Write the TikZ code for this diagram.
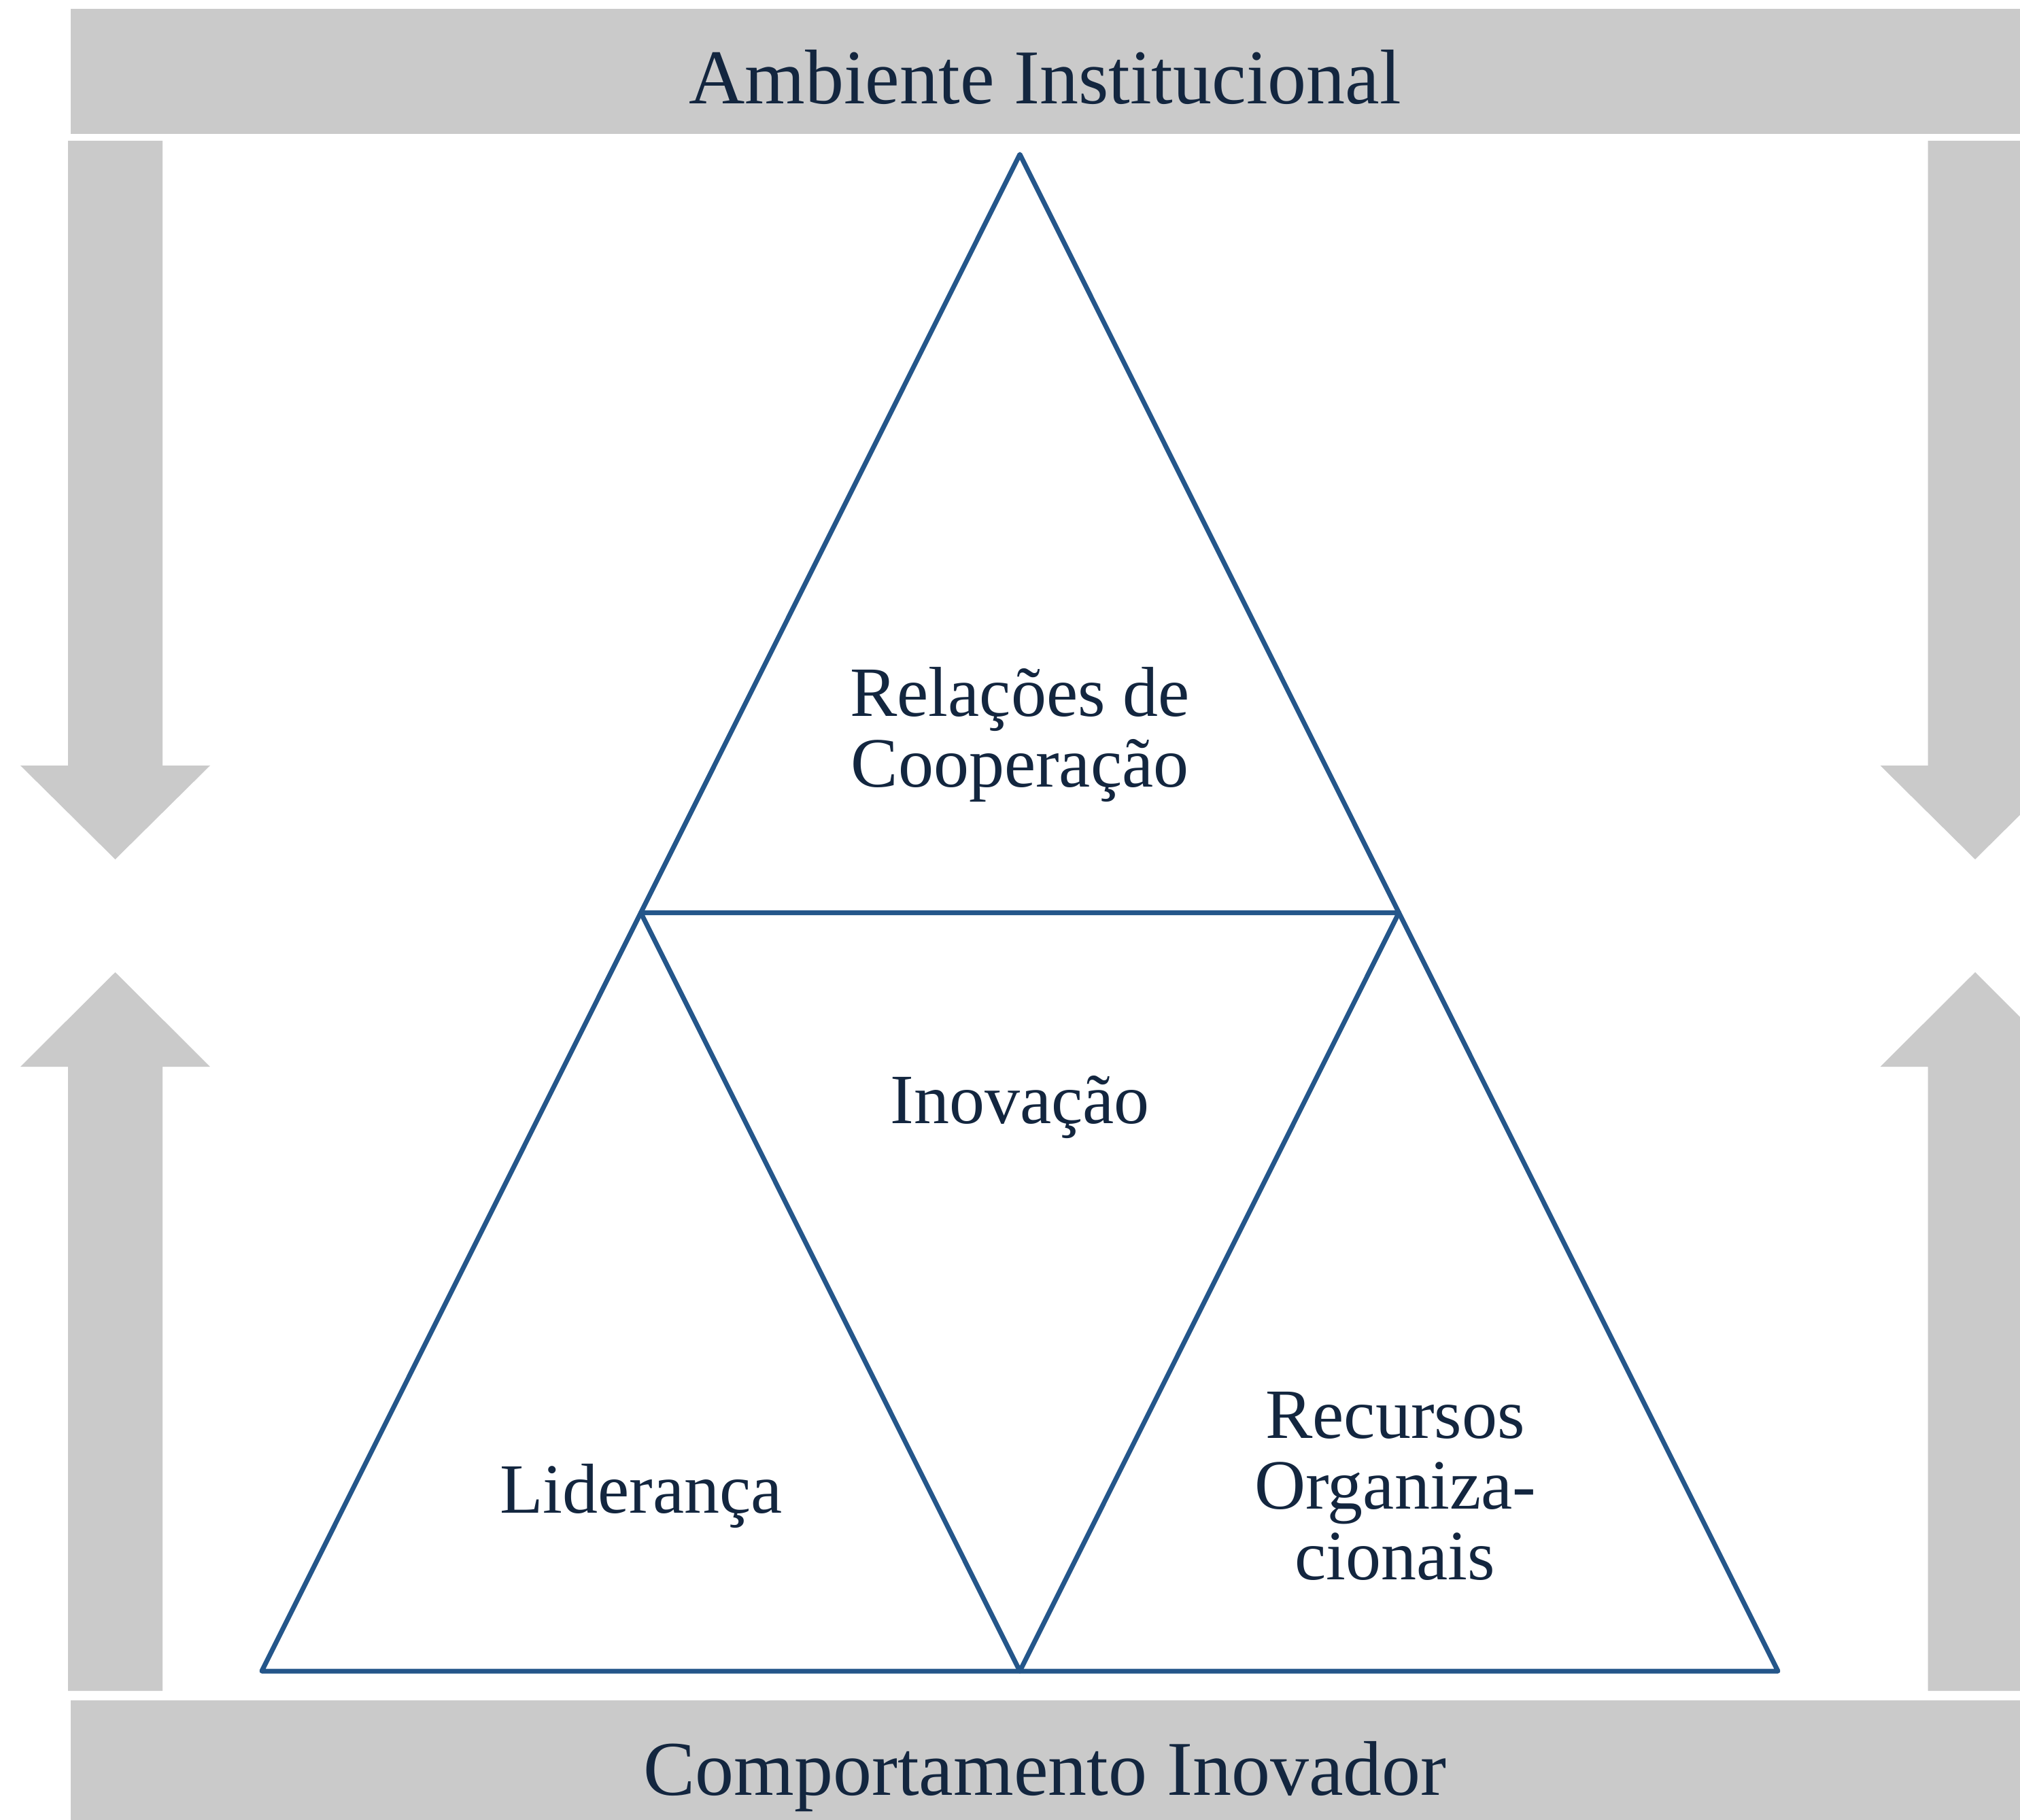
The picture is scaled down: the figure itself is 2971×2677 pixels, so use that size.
\documentclass[tikz,border=0pt]{standalone}
\usepackage{fontspec}
\setmainfont{Liberation Serif}
\definecolor{bargray}{RGB}{202,202,202}
\definecolor{triblue}{RGB}{36,86,138}
\definecolor{textnavy}{RGB}{19,38,63}
\tikzset{
  graybar/.style={fill=bargray, draw=none},
  grayarrow/.style={fill=bargray, draw=none},
  triline/.style={draw=triblue, line width=1.75pt, line join=round, line cap=round},
  titletext/.style={text=textnavy, font=\fontsize{28.5}{30}\selectfont, inner sep=0pt, anchor=base},
  labeltext/.style={text=textnavy, font=\fontsize{26}{26}\selectfont, inner sep=0pt, align=center, anchor=base},
}
\begin{document}
\begin{tikzpicture}[x=0.25pt, y=-0.25pt]
\useasboundingbox (0,0) rectangle (2971,2677);
\clip (0,0) rectangle (2971,2677);
% bars
\fill[graybar] (104,13) rectangle (2971,197);
\fill[graybar] (104,2501) rectangle (2971,2677);
\node[titletext] (ambiente) at (1537,152) {Ambiente Institucional};
\node[titletext] (comport) at (1537,2640) {Comportamento Inovador};
% left arrows
\fill[grayarrow] (100,207) -- (239,207) -- (239,1126) -- (309,1126) -- (169.5,1264) -- (30,1126) -- (100,1126) -- cycle;
\fill[grayarrow] (169.5,1430) -- (309,1569) -- (239,1569) -- (239,2487) -- (100,2487) -- (100,1569) -- (30,1569) -- cycle;
% right arrows
\begin{scope}[xshift=2735.5*0.25pt]
\fill[grayarrow] (100,207) -- (239,207) -- (239,1126) -- (309,1126) -- (169.5,1264) -- (30,1126) -- (100,1126) -- cycle;
\fill[grayarrow] (169.5,1430) -- (309,1569) -- (239,1569) -- (239,2487) -- (100,2487) -- (100,1569) -- (30,1569) -- cycle;
\end{scope}
% triangle
\coordinate (apex) at (1500,227);
\coordinate (bl) at (385,2458);
\coordinate (br) at (2615,2458);
\coordinate (ml) at (942.5,1342.5);
\coordinate (mr) at (2057.5,1342.5);
\coordinate (mb) at (1500,2458);
\draw[triline] (apex) -- (bl) -- (br) -- cycle;
\draw[triline] (ml) -- (mr) -- (mb) -- cycle;
% labels (base anchor = baseline of the last line)
\node[labeltext] (relacoes) at (1500,1157) {Relações de\\Cooperação};
\node[labeltext] (inovacao) at (1500,1652) {Inovação};
\node[labeltext] (lideranca) at (943,2225) {Liderança};
\node[labeltext] (recursos) at (2052,2323) {Recursos\\Organiza-\\cionais};
\end{tikzpicture}
\end{document}
